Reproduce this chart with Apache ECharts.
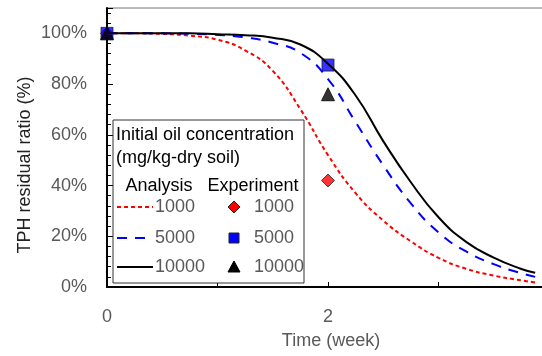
<!DOCTYPE html>
<html><head><meta charset="utf-8">
<script src="https://cdn.jsdelivr.net/npm/echarts@6/dist/echarts.min.js"></script>
<style>html,body{margin:0;padding:0;background:#fff}#c{width:542px;height:356px}</style>
</head><body><div id="c"></div>
<script>
// Analysis curves: [time (week), residual %]
const timeWeeks = [0, 0.25, 0.5, 0.75, 1.0, 1.25, 1.5, 1.75, 2.0, 2.25, 2.5, 2.75, 3.0, 3.25, 3.5, 3.75, 3.875];
const analysis1000  = [100, 100, 99.8, 99.1, 97.5, 93.3, 85.2, 70.1, 52, 37, 26.2, 18, 11.5, 7.2, 4.5, 2.6, 1.8];
const analysis5000  = [100, 100, 100, 99.8, 99.4, 98.4, 96.3, 92.3, 82, 65, 48, 33, 21.5, 14, 9, 5.4, 4.0];
const analysis10000 = [100, 100, 100, 100, 99.7, 99.3, 98.3, 95.6, 88, 75.5, 57.5, 41.3, 27.5, 17.8, 11.6, 7.1, 5.6];
// Experiment points
const expTimes = [0, 2];
const exp1000  = [100, 42];
const exp5000  = [100, 87.5];
const exp10000 = [100, 76];
// Tick labels
const yTickMax = 100;
const xLabelWeeks = [0, 2];

const pair = (xs, ys) => xs.map((x, i) => [x, ys[i]]);
const gray = '#595959';
const font = 'Liberation Sans, Arial, sans-serif';

const chart = echarts.init(document.getElementById('c'));
const lx = 113, ly = 120; // legend box origin
function txt(x, y, s, opts) {
  return Object.assign({type: 'text', x: x, y: y, z: 100,
    style: Object.assign({text: s, fontSize: 18, fontFamily: font, fill: '#000', textVerticalAlign: 'middle'}, opts || {})});
}
const rows = [207, 238, 267];
const graphics = [
  {type: 'text', x: 25, y: 165, rotation: Math.PI / 2, z: 100,
   style: {text: 'TPH residual ratio (%)', fontSize: 18, fontFamily: font, fill: '#222', textAlign: 'center', textVerticalAlign: 'middle'}},
  {type: 'text', x: 331, y: 341, z: 100,
   style: {text: 'Time (week)', fontSize: 18, fontFamily: font, fill: gray, textAlign: 'center', textVerticalAlign: 'middle'}},
  {type: 'rect', shape: {x: lx, y: ly, width: 191, height: 163}, z: 99,
   style: {fill: '#fff', stroke: '#333', lineWidth: 1}},
  txt(116, 135, 'Initial oil concentration'),
  txt(116, 158, '(mg/kg-dry soil)'),
  txt(159, 186, 'Analysis', {textAlign: 'center'}),
  txt(253, 186, 'Experiment', {textAlign: 'center'}),
  {type: 'line', z: 100, shape: {x1: 117, y1: rows[0], x2: 153, y2: rows[0]}, style: {stroke: '#ff0000', lineWidth: 2, lineDash: [4, 3]}},
  {type: 'line', z: 100, shape: {x1: 117, y1: rows[1], x2: 153, y2: rows[1]}, style: {stroke: '#0000ff', lineWidth: 2, lineDash: [10, 8]}},
  {type: 'line', z: 100, shape: {x1: 117, y1: rows[2], x2: 153, y2: rows[2]}, style: {stroke: '#000', lineWidth: 2}},
  txt(155, rows[0], '1000', {fill: gray}),
  txt(155, rows[1], '5000', {fill: gray}),
  txt(155, rows[2], '10000', {fill: gray}),
  {type: 'polygon', z: 100, shape: {points: [[234, rows[0]-6], [240, rows[0]], [234, rows[0]+6], [228, rows[0]]]}, style: {fill: '#ff0000', stroke: '#222', lineWidth: 1}},
  {type: 'rect', z: 100, shape: {x: 229, y: rows[1]-5, width: 10, height: 10}, style: {fill: '#0000ff', stroke: '#222', lineWidth: 1}},
  {type: 'polygon', z: 100, shape: {points: [[234, rows[2]-6], [240, rows[2]+5], [228, rows[2]+5]]}, style: {fill: '#000', stroke: '#000', lineWidth: 1}},
  txt(254, rows[0], '1000', {fill: gray}),
  txt(254, rows[1], '5000', {fill: gray}),
  txt(254, rows[2], '10000', {fill: gray})
];

chart.setOption({
  animation: false,
  textStyle: {fontFamily: font},
  grid: {left: 107, top: 8, right: -7, bottom: 69, containLabel: false, outerBoundsMode: 'none',
         show: true, borderColor: '#777', borderWidth: 1, backgroundColor: 'transparent'},
  xAxis: {
    type: 'value', min: 0, max: 4, interval: 1,
    axisLine: {lineStyle: {color: '#000', width: 2}},
    axisTick: {inside: true, length: 5, lineStyle: {color: '#000', width: 1}},
    axisLabel: {fontSize: 18, color: gray, margin: 21, fontFamily: font,
      formatter: v => xLabelWeeks.includes(v) ? String(v) : ''},
    splitLine: {show: false}
  },
  yAxis: {
    type: 'value', min: 0, max: 110, interval: 20,
    axisLine: {show: true, lineStyle: {color: '#000', width: 2}},
    axisTick: {inside: true, length: 6, lineStyle: {color: '#000', width: 1}},
    minorTick: {show: true, splitNumber: 5, length: 4, lineStyle: {color: '#000', width: 1}},
    axisLabel: {fontSize: 18, color: gray, margin: 20, fontFamily: font,
      formatter: v => v <= yTickMax ? v + '%' : ''},
    splitLine: {show: false}
  },
  graphic: graphics,
  series: [
    {type: 'line', data: pair(timeWeeks, analysis1000), smooth: 0.5, showSymbol: false, symbol: 'none',
     lineStyle: {color: '#ff0000', width: 2, type: [4, 3]}},
    {type: 'line', data: pair(timeWeeks, analysis5000), smooth: 0.5, showSymbol: false, symbol: 'none',
     lineStyle: {color: '#0000ff', width: 2, type: [10, 8]}},
    {type: 'line', data: pair(timeWeeks, analysis10000), smooth: 0.5, showSymbol: false, symbol: 'none',
     lineStyle: {color: '#000', width: 2}},
    {type: 'scatter', data: pair(expTimes, exp1000), symbol: 'diamond', symbolSize: 13,
     itemStyle: {color: '#ff0000', borderColor: '#222', borderWidth: 1}},
    {type: 'scatter', data: pair(expTimes, exp5000), symbol: 'rect', symbolSize: 12,
     itemStyle: {color: '#0000ff', borderColor: '#222', borderWidth: 1}},
    {type: 'scatter', data: pair(expTimes, exp10000), symbol: 'triangle', symbolSize: 13,
     itemStyle: {color: '#000', borderColor: '#000', borderWidth: 1}}
  ]
});
</script></body></html>
